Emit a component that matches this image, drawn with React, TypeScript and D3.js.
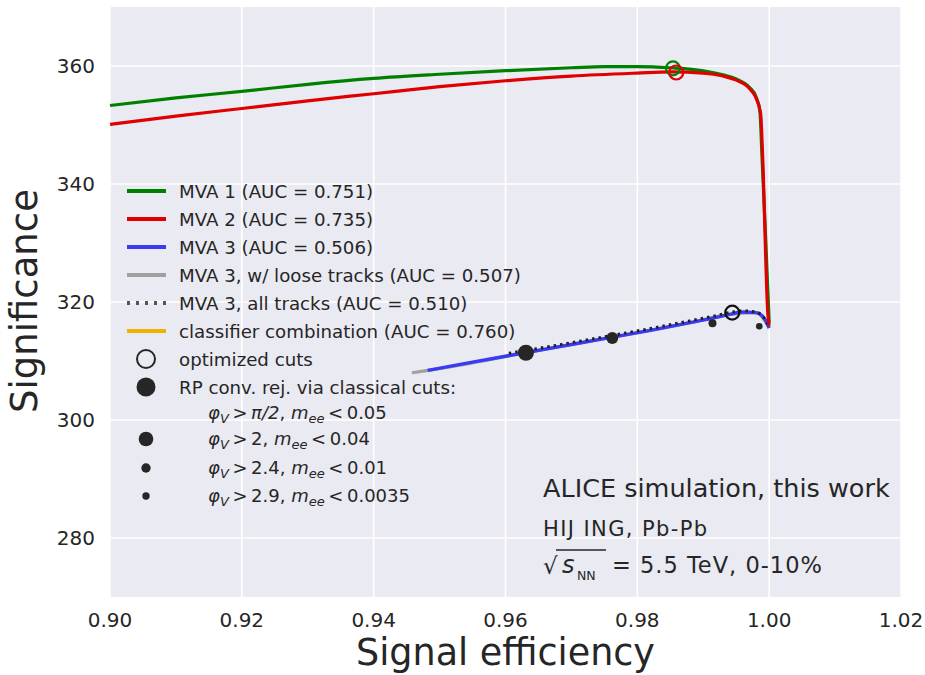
import React from 'react';
import * as d3 from 'd3';

// MVA 1 / MVA 2 significance curves
const mva1Eff = [0.9, 0.91, 0.92, 0.93, 0.94, 0.95, 0.96, 0.97, 0.975, 0.98, 0.985, 0.99, 0.993, 0.995, 0.997, 0.998, 0.9986, 0.9989, 0.9995, 1.0];
const mva1Sig = [353.3, 354.6, 355.7, 356.9, 357.9, 358.6, 359.2, 359.7, 359.9, 359.9, 359.7, 359.2, 358.5, 357.8, 356.4, 354.8, 352.3, 345, 330, 316.5];

const mva2Eff = [0.9, 0.91, 0.92, 0.93, 0.94, 0.95, 0.96, 0.97, 0.98, 0.985, 0.99, 0.993, 0.995, 0.997, 0.998, 0.9987, 0.999, 0.9998, 1.0];
const mva2Sig = [350.1, 351.5, 352.8, 354.1, 355.3, 356.5, 357.5, 358.3, 358.8, 359.0, 358.8, 358.3, 357.6, 356.2, 354.6, 352.0, 345, 318, 316];

// MVA 3 variants
const mva3Eff = [0.9482, 0.955, 0.963, 0.97, 0.976, 0.982, 0.988, 0.992, 0.994, 0.996, 0.998, 0.999, 0.9995, 1.0];
const mva3Sig = [308.4, 309.8, 311.4, 312.8, 314.0, 315.2, 316.5, 317.4, 317.9, 318.3, 318.2, 317.6, 316.8, 315.6];

const looseEff = [0.9458, 0.952, 0.963, 0.976, 0.988, 0.994, 0.998, 1.0];
const looseSig = [308.0, 309.1, 311.4, 314.0, 316.5, 317.9, 318.2, 315.6];

const allEff = [0.9605, 0.97, 0.976, 0.982, 0.988, 0.992, 0.994, 0.996, 0.998, 0.999, 0.9995, 1.0];
const allSig = [311.3, 313.1, 314.3, 315.5, 316.8, 317.7, 318.2, 318.5, 318.3, 317.6, 316.8, 315.6];

// optimized working points (MVA 1, MVA 2, MVA 3)
const optEff = [0.9854, 0.9859, 0.9944];
const optSig = [359.6, 358.9, 318.2];
const optColors = ['#008000', '#e00000', '#111111'];

// classical cuts
const cutEff = [0.9631, 0.9762, 0.9914, 0.9985];
const cutSig = [311.4, 313.9, 316.4, 315.9];
const cutSizes = [8, 6, 4, 3.3];

const xTicks = [0.9, 0.92, 0.94, 0.96, 0.98, 1.0, 1.02];
const yTicks = [280, 300, 320, 340, 360];

const legendLines = [
  { label: 'MVA 1 (AUC = 0.751)', color: '#008000', dash: '' },
  { label: 'MVA 2 (AUC = 0.735)', color: '#e00000', dash: '' },
  { label: 'MVA 3 (AUC = 0.506)', color: '#3a3af5', dash: '' },
  { label: 'MVA 3, w/ loose tracks (AUC = 0.507)', color: '#a0a0a0', dash: '' },
  { label: 'MVA 3, all tracks (AUC = 0.510)', color: '#555555', dash: '3,6' },
  { label: 'classifier combination (AUC = 0.760)', color: '#f0b400', dash: '' },
];

const cutLabels = [
  { phi: 'π/2', m: '0.05' },
  { phi: '2', m: '0.04' },
  { phi: '2.4', m: '0.01' },
  { phi: '2.9', m: '0.0035' },
];
const legendCutSizes = [9.5, 7.3, 4.7, 3.7];

const W = 925;
const H = 675;
const plot = { left: 110, right: 901, top: 7, bottom: 597 };
const FONT = 'DejaVu Sans, sans-serif';
const TXT = '#262626';

const x = d3.scaleLinear().domain([0.9, 1.02]).range([plot.left, plot.right]);
const y = d3.scaleLinear().domain([270, 370]).range([plot.bottom, plot.top]);

const linePath = (xs: number[], ys: number[]) =>
  d3
    .line<number>()
    .x((d) => x(d))
    .y((d, i) => y(ys[i]))
    .curve(d3.curveMonotoneX)(xs) || '';

export default function App() {
  const legendX = 127;
  const rowY = (i: number) => 191 + i * 28;
  const mathY = [413, 439, 468, 496];

  return (
    <svg width={W} height={H} style={{ position: 'absolute', left: 0, top: 0, background: '#fff' }} fontFamily={FONT}>
      <rect x={plot.left} y={plot.top} width={plot.right - plot.left} height={plot.bottom - plot.top} fill="#eaeaf2" />
      {/* grid */}
      {xTicks.map((t) => (
        <line key={'gx' + t} x1={x(t)} x2={x(t)} y1={plot.top} y2={plot.bottom} stroke="#fff" strokeWidth={1.6} />
      ))}
      {yTicks.map((t) => (
        <line key={'gy' + t} x1={plot.left} x2={plot.right} y1={y(t)} y2={y(t)} stroke="#fff" strokeWidth={1.6} />
      ))}
      {/* tick labels */}
      {xTicks.map((t) => (
        <text key={'tx' + t} x={x(t)} y={627} textAnchor="middle" fontSize={20} fill={TXT}>
          {t.toFixed(2)}
        </text>
      ))}
      {yTicks.map((t) => (
        <text key={'ty' + t} x={95} y={y(t)} dy="0.36em" textAnchor="end" fontSize={20} fill={TXT}>
          {t}
        </text>
      ))}
      <text x={(plot.left + plot.right) / 2} y={665} textAnchor="middle" fontSize={36.5} fill={TXT}>
        Signal efficiency
      </text>
      <text transform="translate(37,301) rotate(-90)" textAnchor="middle" fontSize={37} fill={TXT}>
        Significance
      </text>

      {/* curves */}
      <path d={linePath(looseEff, looseSig)} fill="none" stroke="#a0a0a0" strokeWidth={3.2} />
      <path d={linePath(mva3Eff, mva3Sig)} fill="none" stroke="#3a3af5" strokeWidth={3.4} />
      <path d={linePath(allEff, allSig)} fill="none" stroke="#222" strokeWidth={3} strokeDasharray="2.5,4" />
      <path d={linePath(mva1Eff, mva1Sig)} fill="none" stroke="#008000" strokeWidth={3.2} />
      <path d={linePath(mva2Eff, mva2Sig)} fill="none" stroke="#e00000" strokeWidth={3.2} />

      {/* working points */}
      {optEff.map((e, i) => (
        <circle key={'o' + i} cx={x(e)} cy={y(optSig[i])} r={7} fill="none" stroke={optColors[i]} strokeWidth={2.2} />
      ))}
      {cutEff.map((e, i) => (
        <circle key={'c' + i} cx={x(e)} cy={y(cutSig[i])} r={cutSizes[i]} fill="#262626" />
      ))}

      {/* legend */}
      {legendLines.map((l, i) => (
        <g key={'l' + i}>
          <line x1={legendX} x2={legendX + 39} y1={rowY(i)} y2={rowY(i)} stroke={l.color} strokeWidth={4} strokeDasharray={l.dash || undefined} />
          <text x={179} y={rowY(i)} dy="0.36em" fontSize={18.2} fill={TXT}>
            {l.label}
          </text>
        </g>
      ))}
      <circle cx={146} cy={rowY(6)} r={9} fill="none" stroke="#262626" strokeWidth={2} />
      <text x={179} y={rowY(6)} dy="0.36em" fontSize={18.2} fill={TXT}>
        optimized cuts
      </text>
      <circle cx={146} cy={rowY(7)} r={legendCutSizes[0]} fill="#262626" />
      <text x={179} y={rowY(7)} dy="0.36em" fontSize={18.2} fill={TXT}>
        RP conv. rej. via classical cuts:
      </text>
      {cutLabels.map((c, i) => (
        <g key={'m' + i}>
          {i > 0 && <circle cx={146} cy={mathY[i]} r={legendCutSizes[i]} fill="#262626" />}
          <text x={208} y={mathY[i]} dy="0.36em" fontSize={18} fill={TXT}>
            <tspan fontStyle="italic">φ</tspan>
            <tspan fontStyle="italic" fontSize={13} dy={4}>V</tspan>
            <tspan dy={-4}>{'\u2009>\u2009'}</tspan>
            <tspan fontStyle={c.phi === 'π/2' ? 'italic' : 'normal'}>{c.phi}</tspan>
            <tspan>, </tspan>
            <tspan fontStyle="italic">m</tspan>
            <tspan fontStyle="italic" fontSize={13} dy={4}>ee</tspan>
            <tspan dy={-4}>{'\u2009<\u2009' + c.m}</tspan>
          </text>
        </g>
      ))}

      {/* annotation */}
      <text x={543} y={497} fontSize={25.5} fill={TXT}>
        ALICE simulation, this work
      </text>
      <text x={543} y={536} fontSize={21} letterSpacing={1.4} fill={TXT}>
        HIJ ING, Pb-Pb
      </text>
      <text x={543} y={574} fontSize={23} fill={TXT}>
        √
      </text>
      <line x1={556} x2={606} y1={550} y2={550} stroke={TXT} strokeWidth={1.5} />
      <text x={562} y={573} fontSize={24} fontStyle="italic" fill={TXT}>
        s
      </text>
      <text x={577} y={580} fontSize={12.5} fill={TXT}>
        NN
      </text>
      <text x={612} y={573} fontSize={22.5} letterSpacing={1} fill={TXT}>
        = 5.5 TeV, 0-10%
      </text>
    </svg>
  );
}
